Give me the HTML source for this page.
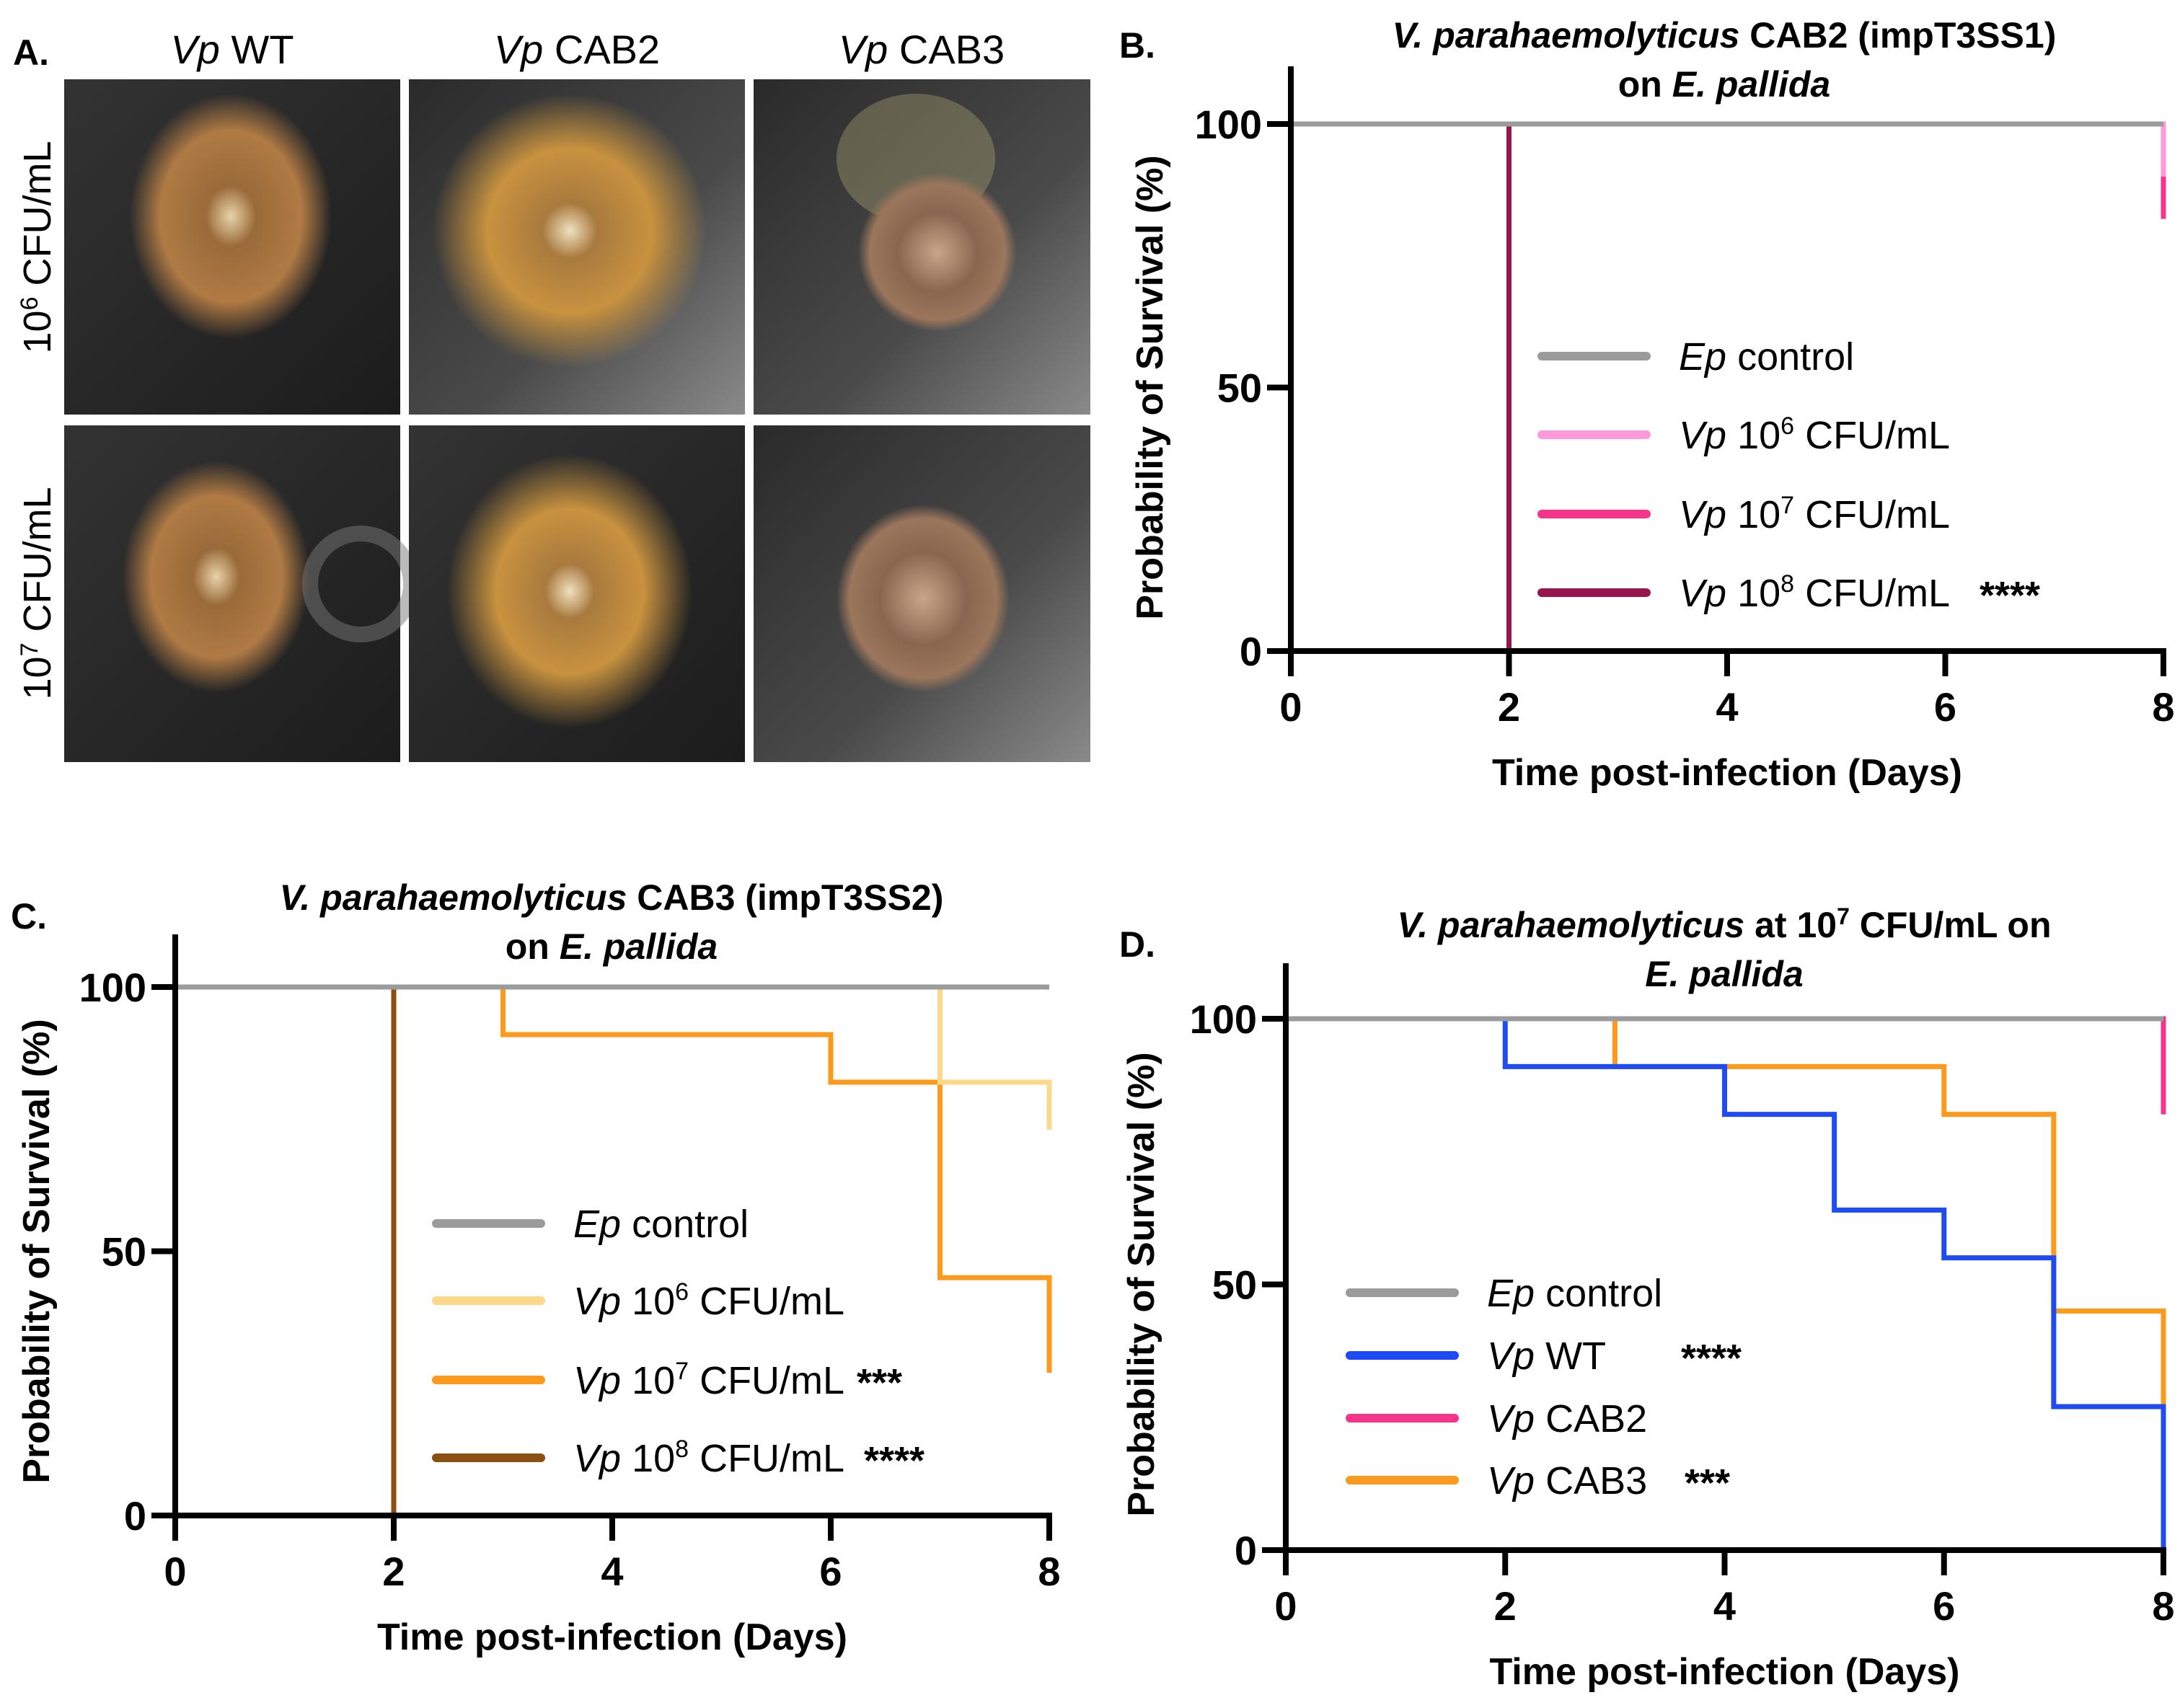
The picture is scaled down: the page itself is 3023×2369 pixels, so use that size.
<!DOCTYPE html>
<html><head><meta charset="utf-8">
<style>
html,body{margin:0;padding:0;background:#fff;}
svg{display:block;font-family:"Liberation Sans",Arial,sans-serif;}
.b{font-weight:bold;}
</style></head>
<body>
<svg id="fig" width="3023" height="2369" viewBox="0 0 3023 2369" xmlns="http://www.w3.org/2000/svg">
<defs>
<radialGradient id="anem1" cx="50%" cy="50%" r="50%"><stop offset="0" stop-color="#e8d3a8"/><stop offset="0.25" stop-color="#9a6a3a"/><stop offset="0.7" stop-color="#b07a44"/><stop offset="1" stop-color="#b07a44" stop-opacity="0"/></radialGradient>
<radialGradient id="anem2" cx="50%" cy="50%" r="50%"><stop offset="0" stop-color="#f0e0c0"/><stop offset="0.2" stop-color="#a97a3e"/><stop offset="0.6" stop-color="#c8923f"/><stop offset="1" stop-color="#c8923f" stop-opacity="0"/></radialGradient>
<radialGradient id="anem3" cx="50%" cy="50%" r="50%"><stop offset="0" stop-color="#c9a58a"/><stop offset="0.5" stop-color="#8a6650"/><stop offset="0.85" stop-color="#9b765c"/><stop offset="1" stop-color="#9b765c" stop-opacity="0"/></radialGradient>
<linearGradient id="dark" x1="0" y1="0" x2="1" y2="1"><stop offset="0" stop-color="#333"/><stop offset="1" stop-color="#1c1c1c"/></linearGradient>
<linearGradient id="glass" x1="0" y1="0" x2="1" y2="1"><stop offset="0" stop-color="#2a2a2a"/><stop offset="0.6" stop-color="#4a4a4a"/><stop offset="1" stop-color="#8a8a8a"/></linearGradient>
</defs>

<g>
<text class="b" x="18" y="90" font-size="50">A.</text>
<text x="322" y="88" font-size="56" text-anchor="middle"><tspan font-style="italic">Vp</tspan>  WT</text>
<text x="800" y="88" font-size="56" text-anchor="middle"><tspan font-style="italic">Vp</tspan>  CAB2</text>
<text x="1278" y="88" font-size="56" text-anchor="middle"><tspan font-style="italic">Vp</tspan>  CAB3</text>
<text transform="translate(70,343) rotate(-90)" font-size="54" text-anchor="middle">10<tspan dy="-18" font-size="34">6</tspan><tspan dy="18"> CFU/mL</tspan></text>
<text transform="translate(70,823) rotate(-90)" font-size="54" text-anchor="middle">10<tspan dy="-18" font-size="34">7</tspan><tspan dy="18"> CFU/mL</tspan></text>

<g><rect x="89" y="110" width="466" height="465" fill="url(#dark)"/><ellipse cx="320" cy="300" rx="140" ry="170" fill="url(#anem1)"/></g>
<g><rect x="567" y="110" width="466" height="465" fill="url(#glass)"/><ellipse cx="790" cy="320" rx="190" ry="190" fill="url(#anem2)"/></g>
<g><rect x="1045" y="110" width="467" height="465" fill="url(#glass)"/><ellipse cx="1270" cy="220" rx="110" ry="90" fill="#a8a070" opacity="0.4"/><ellipse cx="1300" cy="350" rx="110" ry="110" fill="url(#anem3)"/></g>
<g><rect x="89" y="590" width="466" height="467" fill="url(#dark)"/><ellipse cx="300" cy="800" rx="130" ry="160" fill="url(#anem1)"/><circle cx="500" cy="810" r="70" fill="none" stroke="#777" stroke-width="22" opacity="0.5"/></g>
<g><rect x="567" y="590" width="466" height="467" fill="url(#dark)"/><ellipse cx="790" cy="820" rx="170" ry="190" fill="url(#anem2)"/></g>
<g><rect x="1045" y="590" width="467" height="467" fill="url(#glass)"/><ellipse cx="1280" cy="830" rx="120" ry="130" fill="url(#anem3)"/></g>
</g>

<g id="panels"></g>
</svg>

<script>
// ---------- Panel B data ----------
const bControlT = [0, 8];
const bControlS = [100, 100];
const b1e6T = [0, 8];
const b1e6S = [100, 90];
const b1e7T = [0, 8];
const b1e7S = [100, 82];
const b1e8T = [0, 2];
const b1e8S = [100, 0];

// ---------- Panel C data ----------
const cControlT = [0, 8];
const cControlS = [100, 100];
const c1e6T = [0, 7, 8];
const c1e6S = [100, 82, 73];
const c1e7T = [0, 3, 6, 7, 8];
const c1e7S = [100, 91, 82, 45, 27];
const c1e8T = [0, 2];
const c1e8S = [100, 0];

// ---------- Panel D data ----------
const dControlT = [0, 8];
const dControlS = [100, 100];
const dWtT = [0, 2, 4, 5, 6, 7, 8];
const dWtS = [100, 91, 82, 64, 55, 27, 0];
const dCab2T = [0, 8];
const dCab2S = [100, 82];
const dCab3T = [0, 3, 6, 7, 8];
const dCab3S = [100, 91, 82, 45, 27];

const xTicks = [0, 2, 4, 6, 8];
const yTicks = [0, 50, 100];

const NS = "http://www.w3.org/2000/svg";
const root = document.getElementById("panels");

function mk(tag, attrs, parent) {
  const e = document.createElementNS(NS, tag);
  for (const k in attrs) e.setAttribute(k, attrs[k]);
  (parent || root).appendChild(e);
  return e;
}

function stepPath(T, S, sx, sy) {
  let d = "M" + sx(T[0]) + "," + sy(S[0]);
  for (let i = 1; i < T.length; i++) {
    d += " H" + sx(T[i]) + " V" + sy(S[i]);
  }
  return d;
}

function panel(cfg) {
  const g = mk("g", {});
  
  
  const sx = t => cfg.x0 + (cfg.x1 - cfg.x0) * t / 8;
  const sy = v => cfg.y0 + (cfg.y100 - cfg.y0) * v / 100;

  const lbl = mk("text", {x: cfg.lblX, y: cfg.lblY, "font-size": 50, "font-weight": "bold"}, g);
  
  
  lbl.textContent = cfg.letter;

  cfg.titleLines.forEach((ln, i) => {
    const t = mk("text", {x: cfg.titleX, y: cfg.titleY + i * 68, "font-size": 50, "font-weight": "bold", "text-anchor": "middle"}, g);
    
    
    t.innerHTML = ln;
  });

  // series drawn in reverse legend order so control is on top
  cfg.series.slice().reverse().forEach(s => {
    const p = mk("path", {d: stepPath(s.T, s.S, sx, sy), fill: "none", stroke: s.color, "stroke-width": 7, "stroke-linejoin": "miter"}, g);
    
    
  });

  const ya = mk("line", {x1: cfg.x0, y1: cfg.yTop, x2: cfg.x0, y2: cfg.y0 + 4, stroke: "#000", "stroke-width": 8}, g);
  
  
  const xa = mk("line", {x1: cfg.x0 - 33, y1: cfg.y0, x2: cfg.x1 + 4, y2: cfg.y0, stroke: "#000", "stroke-width": 8}, g);
  
  

  yTicks.forEach(v => {
    const tk = mk("line", {x1: cfg.x0 - 33, y1: sy(v), x2: cfg.x0, y2: sy(v), stroke: "#000", "stroke-width": 8}, g);
    
    
    const tl = mk("text", {x: cfg.x0 - 40, y: sy(v) + 20, "font-size": 56, "font-weight": "bold", "text-anchor": "end"}, g);
    
    
    tl.textContent = v;
  });
  xTicks.forEach(t => {
    const tk = mk("line", {x1: sx(t), y1: cfg.y0, x2: sx(t), y2: cfg.y0 + 35, stroke: "#000", "stroke-width": 8}, g);
    
    
    const tl = mk("text", {x: sx(t), y: cfg.y0 + 97, "font-size": 56, "font-weight": "bold", "text-anchor": "middle"}, g);
    
    
    tl.textContent = t;
  });

  const xt = mk("text", {x: (cfg.x0 + cfg.x1) / 2, y: cfg.y0 + 186, "font-size": 52, "font-weight": "bold", "text-anchor": "middle"}, g);
  
  
  xt.textContent = "Time post-infection (Days)";
  const yt = mk("text", {transform: "translate(" + cfg.yTitleX + "," + (cfg.y0 + cfg.y100) / 2 + ") rotate(-90)", "font-size": 52, "font-weight": "bold", "text-anchor": "middle"}, g);
  
  
  yt.textContent = "Probability of Survival (%)";

  cfg.series.forEach((s, i) => {
    const ly = cfg.legY[i];
    const sw = mk("line", {x1: cfg.legX, y1: ly, x2: cfg.legX + 145, y2: ly, stroke: s.color, "stroke-width": 12, "stroke-linecap": "round"}, g);
    
    
    const lt = mk("text", {x: cfg.legX + 190, y: ly + 19, "font-size": 54}, g);
    
    
    lt.innerHTML = s.label;
    if (s.stars) {
      const st = mk("text", {x: s.starX, y: ly + 22, "font-size": 54, "font-weight": "bold"}, g);
      
      
      st.textContent = s.stars;
    }
  });
}

const sup = n => '<tspan dy="-20" font-size="34">' + n + '</tspan><tspan dy="20">';
const vp = '<tspan font-style="italic">Vp</tspan> ';

panel({
  name: "panel-b", letter: "B.", lblX: 1552, lblY: 80,
  x0: 1790, x1: 3000, y0: 903, y100: 172, yTop: 92, yTitleX: 1612,
  titleX: 2391, titleY: 66,
  titleLines: ['<tspan font-style="italic">V. parahaemolyticus</tspan> CAB2 (impT3SS1)', 'on <tspan font-style="italic">E. pallida</tspan>'],
  legX: 2138, legY: [494, 603, 713, 822],
  series: [
    {id: "ep-control", T: bControlT, S: bControlS, color: "#9b9b9b", label: '<tspan font-style="italic">Ep</tspan> control'},
    {id: "vp-1e6", T: b1e6T, S: b1e6S, color: "#ff99d9", label: vp + '10' + sup(6) + ' CFU/mL</tspan>'},
    {id: "vp-1e7", T: b1e7T, S: b1e7S, color: "#f7338b", label: vp + '10' + sup(7) + ' CFU/mL</tspan>'},
    {id: "vp-1e8", T: b1e8T, S: b1e8S, color: "#96164f", label: vp + '10' + sup(8) + ' CFU/mL</tspan>', stars: "****", starX: 2745}
  ]
});
panel({
  name: "panel-c", letter: "C.", lblX: 15, lblY: 1288,
  x0: 243, x1: 1455, y0: 2102, y100: 1369, yTop: 1296, yTitleX: 68,
  titleX: 848, titleY: 1262,
  titleLines: ['<tspan font-style="italic">V. parahaemolyticus</tspan> CAB3 (impT3SS2)', 'on <tspan font-style="italic">E. pallida</tspan>'],
  legX: 605, legY: [1697, 1804, 1914, 2022],
  series: [
    {id: "ep-control", T: cControlT, S: cControlS, color: "#9b9b9b", label: '<tspan font-style="italic">Ep</tspan> control'},
    {id: "vp-1e6", T: c1e6T, S: c1e6S, color: "#fcd98a", label: vp + '10' + sup(6) + ' CFU/mL</tspan>'},
    {id: "vp-1e7", T: c1e7T, S: c1e7S, color: "#fb9a1c", label: vp + '10' + sup(7) + ' CFU/mL</tspan>', stars: "***", starX: 1188},
    {id: "vp-1e8", T: c1e8T, S: c1e8S, color: "#8b4f12", label: vp + '10' + sup(8) + ' CFU/mL</tspan>', stars: "****", starX: 1198}
  ]
});
panel({
  name: "panel-d", letter: "D.", lblX: 1552, lblY: 1327,
  x0: 1783, x1: 3000, y0: 2150, y100: 1413, yTop: 1336, yTitleX: 1600,
  titleX: 2391, titleY: 1300,
  titleLines: ['<tspan font-style="italic">V. parahaemolyticus</tspan> at 10<tspan dy="-18" font-size="32">7</tspan><tspan dy="18"> CFU/mL on</tspan>', '<tspan font-style="italic">E. pallida</tspan>'],
  legX: 1872, legY: [1793, 1880, 1967, 2053],
  series: [
    {id: "ep-control", T: dControlT, S: dControlS, color: "#9b9b9b", label: '<tspan font-style="italic">Ep</tspan> control'},
    {id: "vp-wt", T: dWtT, S: dWtS, color: "#1f4cf2", label: vp + 'WT', stars: "****", starX: 2331},
    {id: "vp-cab2", T: dCab2T, S: dCab2S, color: "#f7338b", label: vp + 'CAB2'},
    {id: "vp-cab3", T: dCab3T, S: dCab3S, color: "#fb9a1c", label: vp + 'CAB3', stars: "***", starX: 2336}
  ]
});
</script>
</body></html>
